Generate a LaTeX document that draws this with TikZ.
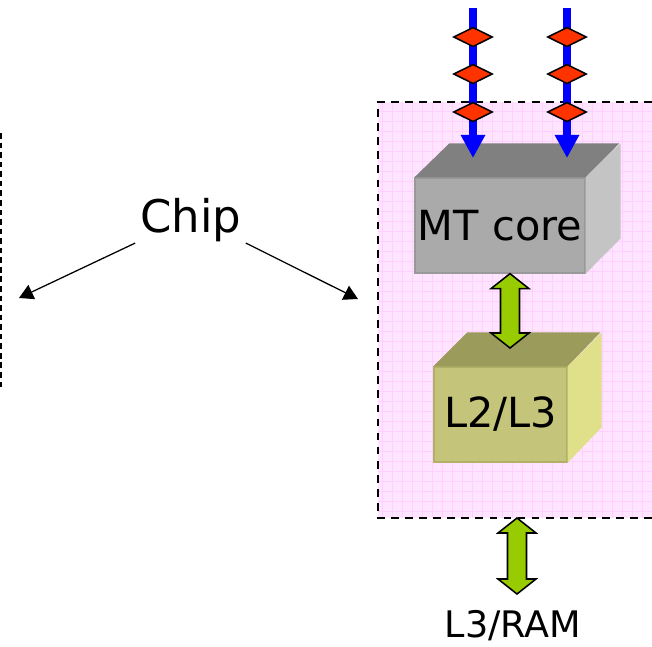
\documentclass[tikz,border=0pt]{standalone}
\usepackage{fontspec}
\setmainfont{DejaVu Sans}
\usetikzlibrary{arrows.meta,calc,shapes.geometric}

\definecolor{chippink}{HTML}{FFE4FF}
\definecolor{chipgrid}{HTML}{FFD0FF}
\definecolor{coretop}{HTML}{808080}
\definecolor{coreface}{HTML}{AAAAAA}
\definecolor{coreedge}{HTML}{999999}
\definecolor{coreside}{HTML}{C4C4C4}
\definecolor{cachetop}{HTML}{9B9B5B}
\definecolor{cacheface}{HTML}{C4C47A}
\definecolor{cacheedge}{HTML}{B0B066}
\definecolor{cacheside}{HTML}{E0E08A}
\definecolor{feedblue}{HTML}{0000FF}
\definecolor{tokenred}{HTML}{FF3300}
\definecolor{busgreen}{HTML}{99CC00}

\begin{document}
\begin{tikzpicture}[
  x=0.025cm, y=-0.025cm,
  frame/.style={draw, line width=1.1pt, dash pattern=on 5.5pt off 4.5pt},
  gridline/.style={draw=chipgrid, line width=0.5pt},
  face/.style={inner sep=0pt, line width=0.9pt, minimum height=2.375cm,
               font=\fontsize{29.5}{34}\selectfont},
  feed/.style={draw=feedblue, line width=5pt, -{Triangle[width=16.5pt, length=16.5pt]}},
  token/.style={diamond, draw, fill=tokenred, line width=1.1pt, inner sep=0pt,
                minimum width=0.97cm, minimum height=0.49cm},
  bus/.style={draw, fill=busgreen, line width=1.1pt, line join=miter},
  pointer/.style={-{Triangle[length=10pt, width=11pt]}, line width=0.9pt},
  lbl/.style={inner sep=0pt},
]
  \useasboundingbox (0,0) rectangle (652,646);

  % ----- Chip region (pink grid) -----
  \begin{scope}
    \clip (378,102) rectangle (652,518);
    \fill[chippink] (378,102) rectangle (652,518);
    \foreach \gx in {382.7,392.7,...,652} \draw[gridline] (\gx,102) -- (\gx,518);
    \foreach \gy in {111.7,121.7,...,518} \draw[gridline] (378,\gy) -- (652,\gy);
  \end{scope}
  \draw[frame] (652,102) -- (378,102) -- (378,518) -- (652,518);

  % left box, cut off
  \draw[frame, dash pattern=on 4pt off 2.8pt] (1,133) -- (1,390);

  % ----- MT core cube -----
  \node[face, draw=coreedge, fill=coreface, minimum width=4.25cm] (core) at (500,225.5) {MT core};
  \fill[coretop] (core.north west) -- ++(35,-34) -- ++(170,0) -- (core.north east) -- cycle;
  \fill[coreside] (core.north east) -- ++(35,-34) -- ++(0,95) -- (core.south east) -- cycle;

  % ----- L2/L3 cube -----
  \node[face, draw=cacheedge, fill=cacheface, minimum width=3.325cm] (cache) at (500.5,414.5) {L2/L3};
  \fill[cachetop] (cache.north west) -- ++(34,-34) -- ++(133,0) -- (cache.north east) -- cycle;
  \fill[cacheside] (cache.north east) -- ++(34,-34) -- ++(0,95) -- (cache.south east) -- cycle;

  % ----- Incoming threads -----
  \coordinate (inA) at (473,8);
  \coordinate (inB) at (567,8);
  \coordinate (tipA) at (473,158);
  \coordinate (tipB) at (567,158);
  \draw[feed] (inA) -- (tipA);
  \draw[feed] (inB) -- (tipB);
  \foreach \ty [count=\k] in {37,74,112} {
    \node[token] (tokA\k) at (473,\ty) {};
    \node[token] (tokB\k) at (567,\ty) {};
  }

  % ----- Buses -----
  \coordinate (busA) at ($(core.south)+(10,0)$);
  \coordinate (busB) at (510,348);
  \draw[bus] (busA) -- ++(19,15) -- ++(-9.5,0) -- ($(busB)+(9.5,-15)$) -- ++(9.5,0)
    -- (busB) -- ++(-19,-15) -- ++(9.5,0) -- ($(busA)+(-9.5,15)$) -- ++(-9.5,0) -- cycle;

  \node[lbl, font=\fontsize{26}{30}\selectfont] (ram) at (513,626) {L3/RAM};
  \coordinate (busC) at (517,518);
  \coordinate (busD) at (517,594);
  \draw[bus] (busC) -- ++(19,15) -- ++(-9.5,0) -- ($(busD)+(9.5,-15)$) -- ++(9.5,0)
    -- (busD) -- ++(-19,-15) -- ++(9.5,0) -- ($(busC)+(-9.5,15)$) -- ++(-9.5,0) -- cycle;

  % ----- Chip label -----
  \node[lbl, font=\fontsize{32}{38}\selectfont] (chip) at (191,220) {Chip};
  \coordinate (leftEnd) at (19,298);
  \coordinate (rightEnd) at (358,299);
  \draw[pointer] ($(chip.south west)+(-5,1)$) -- (leftEnd);
  \draw[pointer] ($(chip.south east)+(4,1)$) -- (rightEnd);
\end{tikzpicture}
\end{document}
